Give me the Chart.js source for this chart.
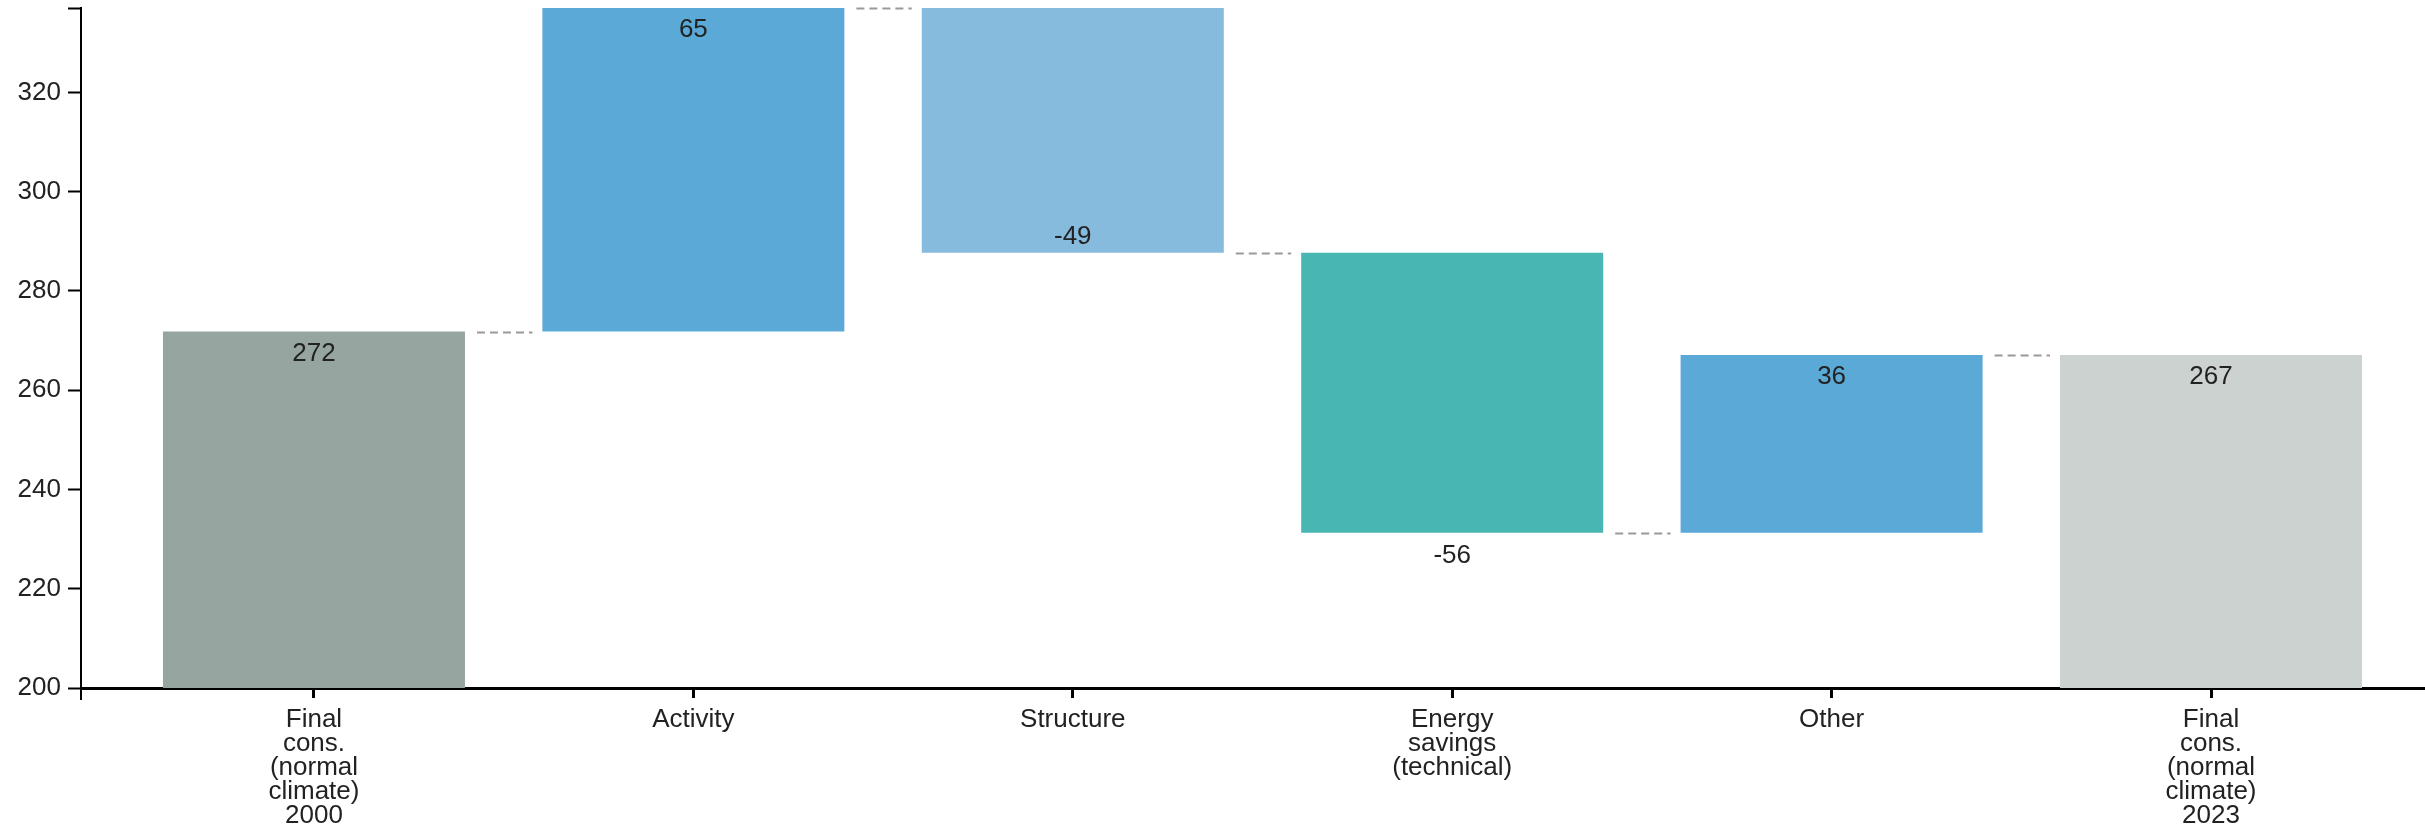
<!DOCTYPE html>
<html><head><meta charset="utf-8">
<title>Final consumption 2000-2023</title>
<script src="https://cdn.jsdelivr.net/npm/chart.js@4/dist/chart.umd.min.js"></script>
<style>
  html,body{margin:0;padding:0;background:#fff}
  canvas{display:block}
</style></head>
<body>
<canvas id="wf" width="2425" height="833"></canvas>
<script>
// Waterfall: final consumption (normal climate) 2000 -> 2023, split by effect.

// ---------- data ----------
const categories = [
  ["Final","cons.","(normal","climate)","2000"],
  "Activity",
  "Structure",
  ["Energy","savings","(technical)"],
  "Other",
  ["Final","cons.","(normal","climate)","2023"]];
const startTotal = 271.8;                    // 2000
const effects    = [65.2, -49.3, -56.4, 35.8];
const endTotal   = 267.1;                    // 2023
const yTicks     = [200, 220, 240, 260, 280, 300, 320];
const yMin = 200, yMax = 337;

// ---------- look ----------
const FONT = "'Liberation Sans', Arial, sans-serif";
const barColors = ["#96a5a0","#5aa9d6","#86bbdd","#48b7b3","#5aa9d6","#ccd2d0"];
// where each value label sits: inside under the top, inside over the bottom, or under the bar
const labelSpot = ["inTop","inTop","inBottom","outBottom","inTop","inTop"];
const xMin = -0.614, xMax = 5.564;           // a bit of room left/right of the bars

// floating bars: totals start at 0, effects start where the previous bar ended
const ranges = [[0, startTotal]];
let run = startTotal;
effects.forEach(d => { ranges.push([run, run + d]); run += d; });
ranges.push([0, endTotal]);
const shown = [startTotal, ...effects, endTotal];   // the number printed on each bar

// dashed connectors + value labels + the little end tick under the x axis
const waterfallExtras = {
  id: "waterfallExtras",
  afterDatasetsDraw(chart){
    const {ctx, chartArea, scales:{y}} = chart;
    const bars = chart.getDatasetMeta(0).data;
    ctx.save();
    ctx.strokeStyle = "#9a9a9a"; ctx.lineWidth = 2; ctx.setLineDash([8,5]);
    for(let i=0;i<bars.length-1;i++){
      const a = bars[i], b = bars[i+1];
      const py = Math.round(y.getPixelForValue(ranges[i][1])) + 0.5;
      ctx.beginPath();
      ctx.moveTo(a.x + a.width/2 + 12, py);
      ctx.lineTo(b.x - b.width/2 - 10, py);
      ctx.stroke();
    }
    ctx.setLineDash([]);
    ctx.font = `26px ${FONT}`; ctx.fillStyle = "#222";
    ctx.textAlign = "center"; ctx.textBaseline = "middle";
    bars.forEach((bar, i) => {
      const top = Math.min(bar.y, bar.base), bottom = Math.max(bar.y, bar.base);
      const ty = labelSpot[i]==="inTop" ? top + 22
               : labelSpot[i]==="inBottom" ? bottom - 16 : bottom + 23;
      ctx.fillText(String(Math.round(shown[i])), bar.x, ty);
    });
    ctx.strokeStyle = "#000"; ctx.lineWidth = 2;
    ctx.beginPath();
    ctx.moveTo(chartArea.left, chartArea.bottom); ctx.lineTo(chartArea.left, chartArea.bottom + 12);
    ctx.stroke();
    ctx.restore();
  }
};

new Chart(document.getElementById("wf"), {
  type: "bar",
  data: {
    datasets: [{
      data: ranges.map((r, i) => ({x: i, y: r})),
      backgroundColor: barColors,
      borderWidth: 0,
      categoryPercentage: 1,
      barPercentage: 0.796
    }]
  },
  options: {
    responsive: false, animation: false,
    layout: {padding: {top: 8, right: 0, left: 0, bottom: 0}},
    plugins: {legend: {display: false}, tooltip: {enabled: false}},
    scales: {
      x: {
        type: "linear", min: xMin, max: xMax, offset: false,
        afterBuildTicks: s => { s.ticks = categories.map((_, i) => ({value: i})); },
        afterFit: s => { s.height = 145; s.paddingLeft = 0; s.paddingRight = 0; },
        ticks: {font: {family: FONT, size: 26, lineHeight: 0.92}, color: "#222",
                padding: 10, maxRotation: 0, autoSkip: false, callback: v => categories[v]},
        grid: {offset: false, drawOnChartArea: false, tickLength: 10, tickWidth: 3, tickColor: "#000"},
        border: {color: "#000", width: 3}
      },
      y: {
        type: "linear", min: yMin, max: yMax,
        afterBuildTicks: s => { s.ticks = [...yTicks, yMax].map(v => ({value: v})); },
        afterFit: s => { s.width = 81; s.paddingTop = 0; s.paddingBottom = 0; },
        ticks: {font: {family: FONT, size: 26}, color: "#222", padding: 7,
                callback: v => v === yMax ? "" : v},
        grid: {drawOnChartArea: false, tickLength: 13, tickWidth: 2, tickColor: "#000"},
        border: {color: "#000", width: 2}
      }
    }
  },
  plugins: [waterfallExtras]
});
</script>
</body></html>
